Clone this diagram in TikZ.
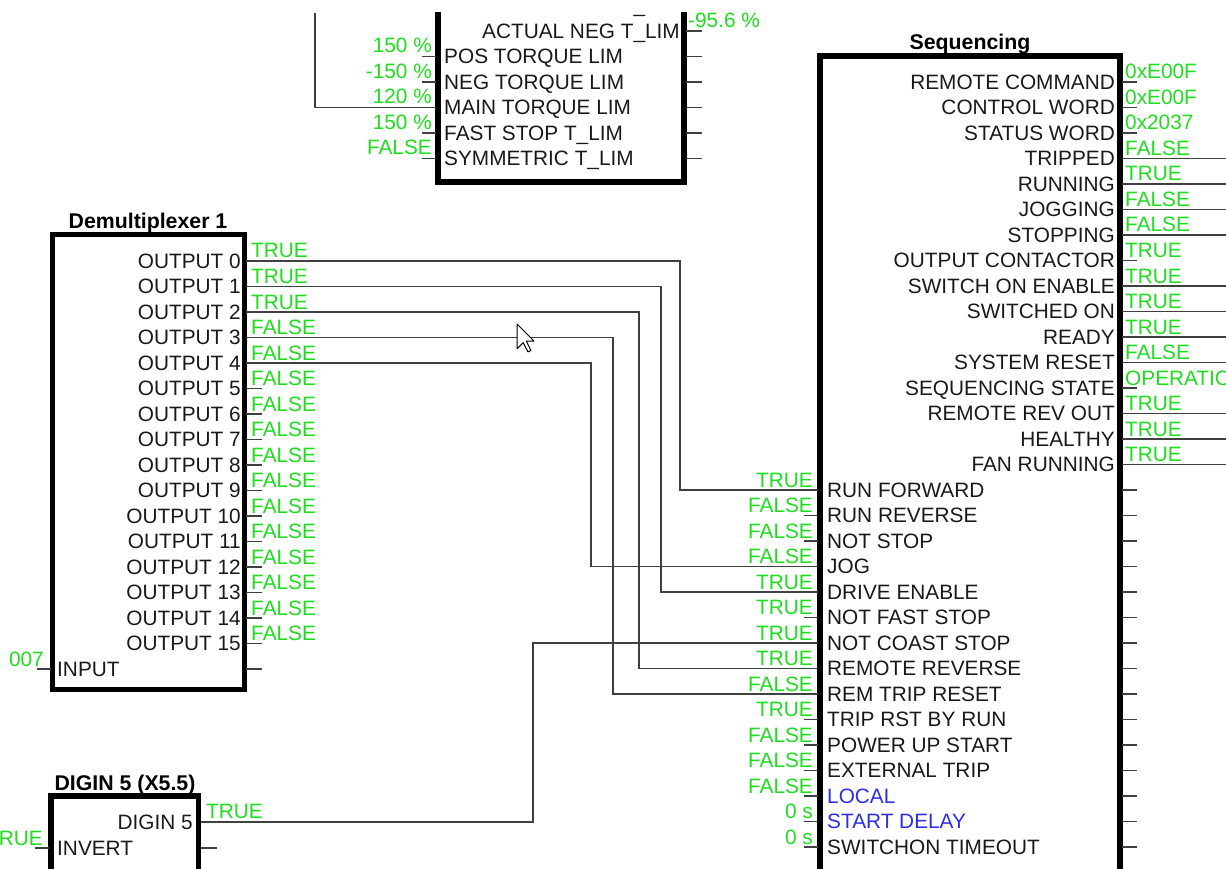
\documentclass[tikz,border=0pt]{standalone}
\usepackage{fontspec}
\setmainfont{Liberation Sans}
\usetikzlibrary{calc}

\definecolor{valgreen}{RGB}{30,220,30}
\definecolor{pinblue}{RGB}{45,45,230}
\definecolor{wiregray}{RGB}{64,64,64}

\begin{document}
\begin{tikzpicture}[
    x=1pt, y=-1pt,
    font=\fontsize{20.8}{24}\selectfont,
    blk/.style={line width=5.5pt, black},
    wire/.style={line width=1.8pt, wiregray},
    lab/.style={inner sep=0pt, text=black!90},
    rlab/.style={lab, anchor=base east},
    llab/.style={lab, anchor=base west},
    val/.style={inner sep=0pt, text=valgreen},
    rval/.style={val, anchor=base east},
    lval/.style={val, anchor=base west},
    ttl/.style={inner sep=0pt, anchor=base, font=\fontsize{21.3}{24}\selectfont\bfseries},
]
\useasboundingbox (0,0) rectangle (1226,869);

% ---- torque limit block (cut off at the top) ----
\begin{scope}
\clip (0,13) rectangle (1226,869);
\draw[blk] (438,0) -- (438,182) -- (684,182) -- (684,0);
\coordinate (tq-o0) at (686,5.5);
\draw[wire] (tq-o0) -- ++(16,0);
\begin{scope}
\clip (0,14) rectangle (1226,40);
\node[rlab] (tq-ol0) at ($(tq-o0)+(-6,7.3)$) {ACTUAL POS T\_LIM};
\end{scope}
\coordinate (tq-o1) at (686,31);
\draw[wire] (tq-o1) -- ++(16,0);
\node[rlab] (tq-ol1) at ($(tq-o1)+(-6,7.3)$) {ACTUAL NEG T\_LIM};
\node[lval] (tq-ov1) at ($(tq-o1)+(2,-3)$) {-95.6 \%};
\foreach \k/\lab/\v in {2/POS TORQUE LIM/150 \%, 3/NEG TORQUE LIM/-150 \%,
    4/MAIN TORQUE LIM/120 \%, 5/FAST STOP T\_LIM/150 \%, 6/SYMMETRIC T\_LIM/FALSE} {
    \coordinate (tq-i\k) at (436,{5.5+25.5*\k});
    \draw[wire] (tq-i\k) -- ++(-14,0);
    \draw[wire] (686,{5.5+25.5*\k}) -- ++(16,0);
    \node[llab] (tq-il\k) at ($(tq-i\k)+(8,7.3)$) {\lab};
    \node[rval] (tq-iv\k) at ($(tq-i\k)+(-4,-3.5)$) {\v};
}
\coordinate (tq-src) at (315,13);
\draw[wire] (tq-src) |- (tq-i4);
\end{scope}

% ---- Demultiplexer 1 ----
\draw[blk] (52.5,234.75) rectangle (244.5,689.25);
\node[ttl] (dmx-t) at (148,229) {Demultiplexer 1};
\foreach \k/\v in {0/TRUE, 1/TRUE, 2/TRUE, 3/FALSE, 4/FALSE, 5/FALSE, 6/FALSE, 7/FALSE,
    8/FALSE, 9/FALSE, 10/FALSE, 11/FALSE, 12/FALSE, 13/FALSE, 14/FALSE, 15/FALSE} {
    \coordinate (dmx-o\k) at (246,{261+25.5*\k});
    \node[rlab] (dmx-l\k) at ($(dmx-o\k)+(-5,7.3)$) {OUTPUT \k};
    \node[lval] (dmx-v\k) at ($(dmx-o\k)+(5,-3)$) {\v};
}
\foreach \k in {5,...,15} \draw[wire] (dmx-o\k) -- ++(16,0);
\coordinate (dmx-i) at (51,669);
\draw[wire] (dmx-i) -- ++(-14,0);
\draw[wire] (246,669) -- ++(16,0);
\node[llab] (dmx-il) at ($(dmx-i)+(6,7.3)$) {INPUT};
\node[rval] (dmx-iv) at ($(dmx-i)+(-7,-3)$) {007};

% ---- Sequencing ----
\draw[blk] (820,56) rectangle (1120,900);
\node[ttl] (sq-t) at (970,49.5) {Sequencing};
% outputs: label / value / stub length
\foreach \k/\lab/\v/\len in {0/REMOTE COMMAND/0xE00F/15, 1/CONTROL WORD/0xE00F/15,
    2/STATUS WORD/0x2037/15, 3/TRIPPED/FALSE/110, 4/RUNNING/TRUE/110,
    5/JOGGING/FALSE/110, 6/STOPPING/FALSE/110, 7/OUTPUT CONTACTOR/TRUE/15,
    8/SWITCH ON ENABLE/TRUE/110, 9/SWITCHED ON/TRUE/110, 10/READY/TRUE/110,
    11/SYSTEM RESET/FALSE/110, 12/SEQUENCING STATE/OPERATION/15,
    13/REMOTE REV OUT/TRUE/110, 14/HEALTHY/TRUE/110, 15/FAN RUNNING/TRUE/110} {
    \coordinate (sq-o\k) at (1122,{82+25.5*\k});
    \draw[wire] (sq-o\k) -- ++(\len,0);
    \node[rlab] (sq-ol\k) at ($(sq-o\k)+(-7,7.3)$) {\lab};
    \node[lval] (sq-ov\k) at ($(sq-o\k)+(3,-3)$) {\v};
}
% inputs
\foreach \k/\lab/\v/\c in {16/RUN FORWARD/TRUE/black!90, 17/RUN REVERSE/FALSE/black!90,
    18/NOT STOP/FALSE/black!90, 19/JOG/FALSE/black!90, 20/DRIVE ENABLE/TRUE/black!90,
    21/NOT FAST STOP/TRUE/black!90, 22/NOT COAST STOP/TRUE/black!90,
    23/REMOTE REVERSE/TRUE/black!90, 24/REM TRIP RESET/FALSE/black!90,
    25/TRIP RST BY RUN/TRUE/black!90, 26/POWER UP START/FALSE/black!90,
    27/EXTERNAL TRIP/FALSE/black!90, 28/LOCAL/FALSE/pinblue,
    29/START DELAY/0 s/pinblue, 30/SWITCHON TIMEOUT/0 s/black!90} {
    \coordinate (sq-i\k) at (818,{82+25.5*\k});
    \draw[wire] (sq-i\k) -- ++(-14,0);
    \draw[wire] (1122,{82+25.5*\k}) -- ++(15,0);
    \node[llab, text=\c] (sq-il\k) at ($(sq-i\k)+(9,7.3)$) {\lab};
    \node[rval] (sq-iv\k) at ($(sq-i\k)+(-5,-3)$) {\v};
}

% ---- DIGIN 5 (X5.5) ----
\draw[blk] (51,796) rectangle (198.5,900);
\node[ttl] (dig-t) at (125,790.5) {DIGIN 5 (X5.5)};
\coordinate (dig-o) at (200.5,822);
\node[rlab] (dig-ol) at ($(dig-o)+(-7.5,7.3)$) {DIGIN 5};
\node[lval] (dig-ov) at ($(dig-o)+(5.5,-3.5)$) {TRUE};
\coordinate (dig-i) at (49,848);
\draw[wire] (dig-i) -- ++(-14,0);
\draw[wire] (200.5,848) -- ++(16,0);
\node[llab] (dig-il) at ($(dig-i)+(8,7.3)$) {INVERT};
\node[rval] (dig-iv) at ($(dig-i)+(-6,-3)$) {TRUE};

% wires from the demultiplexer and the digital input
\foreach \o/\i/\cx in {0/16/680, 1/20/661, 2/23/639, 3/24/613, 4/19/591}
    \draw[wire] (dmx-o\o) -| (\cx,{82+25.5*\i}) -- (sq-i\i);
\draw[wire] (dig-o) -| (533,643) -- (sq-i22);

% mouse pointer
\draw[fill=white, line width=1pt, line join=round] (517,324) -- ++(0,24.8) -- ++(6.2,-6.2)
    -- ++(4.7,9.3) -- ++(3.1,-1.5) -- ++(-4.7,-9.4) -- ++(7.7,0) -- cycle;
\end{tikzpicture}
\end{document}
